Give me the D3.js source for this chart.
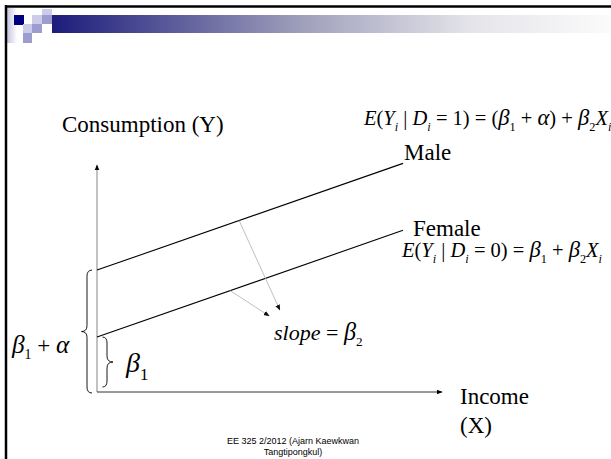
<!DOCTYPE html>
<html><head><meta charset="utf-8">
<script src="https://cdn.jsdelivr.net/npm/d3@7"></script>
<style>body{margin:0;background:#fff;overflow:hidden}svg{display:block}</style>
</head><body>
<script>
// ---- data ----
const groups = ["Male", "Female"];
const intercepts = [5.37, 2.42];          // beta1 + alpha, beta1
const beta2 = 0.53;                       // common slope
const lineX = [0, 8.87];                  // x extent of the regression lines
const axisX = [0, 10];
const axisY = [0, 10];
const arrowFromX = [4.12, 3.86];          // points on Male / Female lines
const arrowToX = [5.30, 4.99];
const arrowToY = [3.61, 3.35];
const footerLines = ["EE 325 2/2012 (Ajarn Kaewkwan", "Tangtipongkul)"];

const W = 611, H = 459;
const svg = d3.select("body").append("svg").attr("width", W).attr("height", H);
const serif = "'Liberation Serif','Times New Roman',serif";

// ---- header decoration ----
const defs = svg.append("defs");
const g1 = defs.append("linearGradient").attr("id", "bar").attr("x1", 0).attr("x2", 1);
g1.append("stop").attr("offset", 0).attr("stop-color", "#1c1c7c");
g1.append("stop").attr("offset", 0.45).attr("stop-color", "#a0a0bc");
g1.append("stop").attr("offset", 0.75).attr("stop-color", "#e4e4ea");
g1.append("stop").attr("offset", 1).attr("stop-color", "#fbfbfb");
const g2 = defs.append("linearGradient").attr("id", "side").attr("x1", 0).attr("x2", 1);
g2.append("stop").attr("offset", 0).attr("stop-color", "#c4c4e0");
g2.append("stop").attr("offset", 1).attr("stop-color", "#ffffff");
const mk = (id, color, size) => defs.append("marker").attr("id", id)
  .attr("viewBox", "0 0 10 10").attr("refX", 9).attr("refY", 5)
  .attr("markerWidth", size).attr("markerHeight", size).attr("orient", "auto")
  .attr("markerUnits", "userSpaceOnUse")
  .append("path").attr("d", "M0,1 L10,5 L0,9 Z").attr("fill", color);
mk("ah", "#000", 6);
mk("ahs", "#111", 6);

svg.append("rect").attr("x", 7).attr("y", 8).attr("width", 10).attr("height", 35).attr("fill", "url(#side)");
svg.append("rect").attr("x", 52).attr("y", 15).attr("width", W - 52).attr("height", 18).attr("fill", "url(#bar)");
const sq = [
  [14, 15, 10, 10, "#000080"],
  [42, 9, 10, 6, "#ccccea"],
  [32, 15, 10, 9, "#ccccea"],
  [42, 15, 10, 9, "#9c9cce"],
  [23, 24, 9, 9, "#ccccea"],
  [32, 24, 10, 9, "#9c9cce"],
  [23, 33, 9, 10, "#9c9cce"]
];
svg.selectAll("rect.sq").data(sq).join("rect").attr("class", "sq")
  .attr("x", d => d[0]).attr("y", d => d[1]).attr("width", d => d[2]).attr("height", d => d[3])
  .attr("fill", d => d[4]);
// frame
svg.append("line").attr("x1", 5).attr("x2", W).attr("y1", 6.5).attr("y2", 6.5).attr("stroke", "#000").attr("stroke-width", 2.5);
svg.append("line").attr("x1", 6).attr("x2", 6).attr("y1", 5).attr("y2", H).attr("stroke", "#000").attr("stroke-width", 2.5);

// ---- scales ----
const x = d3.scaleLinear().domain(axisX).range([97, 442]);
const y = d3.scaleLinear().domain(axisY).range([392, 165]);

// axes
svg.append("line").attr("x1", x(0)).attr("y1", y(0)).attr("x2", x(0)).attr("y2", y(axisY[1]))
  .attr("stroke", "#999").attr("stroke-width", 1.2).attr("marker-end", "url(#ah)");
svg.append("line").attr("x1", x(0)).attr("y1", y(0)).attr("x2", x(axisX[1])).attr("y2", y(0))
  .attr("stroke", "#333").attr("stroke-width", 1).attr("marker-end", "url(#ah)");

// regression lines
const line = d3.line().x(d => x(d[0])).y(d => y(d[1]));
svg.selectAll("path.reg").data(intercepts).join("path").attr("class", "reg")
  .attr("d", b => line(lineX.map(v => [v, b + beta2 * v])))
  .attr("fill", "none").attr("stroke", "#000").attr("stroke-width", 1.1);

// slope arrows
svg.selectAll("line.sl").data(intercepts).join("line").attr("class", "sl")
  .attr("x1", (b, i) => x(arrowFromX[i])).attr("y1", (b, i) => y(b + beta2 * arrowFromX[i]))
  .attr("x2", (b, i) => x(arrowToX[i])).attr("y2", (b, i) => y(arrowToY[i]))
  .attr("stroke", "#b0b0b0").attr("stroke-width", 0.8).attr("marker-end", "url(#ahs)");

// braces
function brace(xBody, xEnd, xTip, y0, y1) {
  const ym = (y0 + y1) / 2, r = 6;
  return `M${xEnd},${y0} Q${xBody},${y0} ${xBody},${y0 + r} L${xBody},${ym - r} Q${xBody},${ym} ${xTip},${ym}` +
    ` Q${xBody},${ym} ${xBody},${ym + r} L${xBody},${y1 - r} Q${xBody},${y1} ${xEnd},${y1}`;
}
svg.append("path").attr("d", brace(87, 92, 81.5, y(intercepts[0]), y(0) + 1))
  .attr("fill", "none").attr("stroke", "#000").attr("stroke-width", 0.9);
svg.append("path").attr("d", brace(107, 102.5, 113, y(intercepts[1]), y(0) - 5))
  .attr("fill", "none").attr("stroke", "#000").attr("stroke-width", 0.9);

// ---- text helper ----
function rich(xp, yp, size, segs) {
  const t = svg.append("text").attr("x", xp).attr("y", yp).attr("font-family", serif).attr("font-size", size);
  let shifted = 0;
  segs.forEach(s => {
    const ts = t.append("tspan").text(s.t);
    if (s.i) ts.attr("font-style", "italic");
    if (s.big) ts.attr("font-size", size * s.big);
    if (s.sub) {
      ts.attr("font-size", size * 0.6).attr("dy", size * 0.28 - shifted);
      shifted = size * 0.28;
    } else if (shifted) {
      ts.attr("dy", -shifted); shifted = 0;
    }
    if (s.dx) ts.attr("dx", s.dx);
  });
  return t;
}

svg.append("text").attr("x", 62).attr("y", 132).attr("font-family", serif).attr("font-size", 23).text("Consumption (Y)");
svg.append("text").attr("x", 404).attr("y", 160).attr("font-family", serif).attr("font-size", 23).text(groups[0]);
svg.append("text").attr("x", 413).attr("y", 236).attr("font-family", serif).attr("font-size", 23).text(groups[1]);
svg.append("text").attr("x", 460).attr("y", 404).attr("font-family", serif).attr("font-size", 23).text("Income");
svg.append("text").attr("x", 460).attr("y", 433).attr("font-family", serif).attr("font-size", 23).text("(X)");

rich(364, 125, 20.5, [
  {t: "E", i: 1}, {t: "("}, {t: "Y", i: 1}, {t: "i", i: 1, sub: 1}, {t: " | "}, {t: "D", i: 1}, {t: "i", i: 1, sub: 1},
  {t: " = 1) = ("}, {t: "β", i: 1, big: 1.1}, {t: "1", sub: 1}, {t: " + "}, {t: "α", i: 1, big: 1.1}, {t: ") + "},
  {t: "β", i: 1, big: 1.1}, {t: "2", sub: 1}, {t: "X", i: 1}, {t: "i", i: 1, sub: 1}
]);
rich(402, 257, 20.5, [
  {t: "E", i: 1}, {t: "("}, {t: "Y", i: 1}, {t: "i", i: 1, sub: 1}, {t: " | "}, {t: "D", i: 1}, {t: "i", i: 1, sub: 1},
  {t: " = 0) = "}, {t: "β", i: 1, big: 1.1}, {t: "1", sub: 1}, {t: " + "},
  {t: "β", i: 1, big: 1.1}, {t: "2", sub: 1}, {t: "X", i: 1}, {t: "i", i: 1, sub: 1}
]);
rich(274, 340, 22, [{t: "slope", i: 1}, {t: " = "}, {t: "β", i: 1, big: 1.1}, {t: "2", sub: 1}]);
rich(12, 353, 23, [{t: "β", i: 1, big: 1.1}, {t: "1", sub: 1}, {t: " + "}, {t: "α", i: 1, big: 1.1}]);
rich(126, 372, 28, [{t: "β", i: 1}, {t: "1", sub: 1}]);

// footer
svg.append("text").attr("x", 293).attr("y", 444).attr("text-anchor", "middle")
  .attr("font-family", "'Liberation Sans',Arial,sans-serif").attr("font-size", 9)
  .selectAll("tspan").data(footerLines).join("tspan")
  .attr("x", 293).attr("dy", (d, i) => i ? 11 : 0).text(d => d);
</script>
</body></html>
